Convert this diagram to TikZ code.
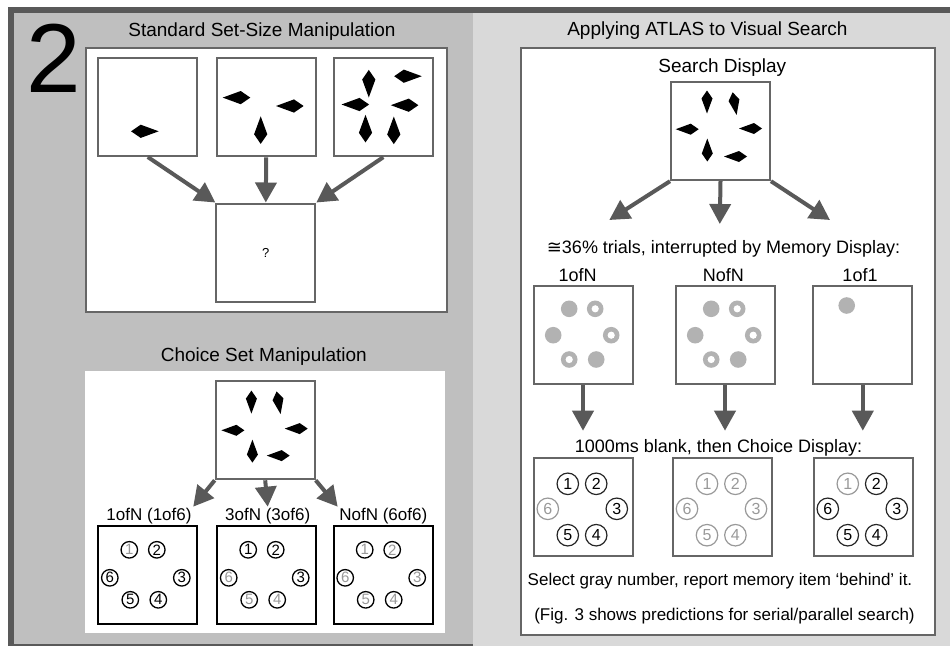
\documentclass[tikz,border=0pt]{standalone}
\usepackage{fontspec}
\setmainfont{Liberation Sans}
\newfontfamily\dejavu{DejaVu Sans}
\usetikzlibrary{arrows.meta}

\definecolor{framedark}{gray}{0.35}
\definecolor{panelleft}{gray}{0.75}
\definecolor{panelright}{gray}{0.85}
\definecolor{boxgray}{gray}{0.4}
\definecolor{arrowgray}{gray}{0.35}
\definecolor{dotgray}{gray}{0.7}
\definecolor{numgray}{gray}{0.6}

% kite shaped search item: [scale]{position}{direction of the long tip}
\newcommand{\kite}[3][1]{\fill[shift={(#2)},rotate=#3,scale=#1] (15,0) -- (0,5.5) -- (-8,0) -- (0,-5.5) -- cycle;}
% memory items
\newcommand{\fulldot}[1]{\fill[dotgray] (#1) circle (8.3);}
\newcommand{\ringdot}[1]{\fill[dotgray] (#1) circle (8.3); \fill[white] (#1) circle (3.6);}

\tikzset{
  disp/.style={draw=boxgray, line width=2pt, fill=white, minimum width=99pt, minimum height=98pt, inner sep=0pt},
  choicebox/.style={disp, draw=black},
  bigarrow/.style={draw=arrowgray, line width=4pt, -{Triangle[length=20pt,width=21pt]}},
  lnum/.style={circle, draw=black, line width=1.3pt, minimum size=16.5pt, inner sep=0pt, font=\fontsize{15}{15}\selectfont},
  rnum/.style={circle, draw=black!85, line width=1.2pt, minimum size=21.5pt, inner sep=0pt, font=\fontsize{16}{16}\selectfont},
  grayed/.style={text=numgray},
  rgrayed/.style={text=numgray, draw=numgray},
  titletext/.style={anchor=base, inner sep=0pt, font=\fontsize{19}{19}\selectfont},
  midtext/.style={anchor=base, inner sep=1.5pt, font=\fontsize{18}{18}\selectfont},
  notetext/.style={anchor=base, inner sep=1.5pt, font=\fontsize{17}{17}\selectfont}
}

\begin{document}
\begin{tikzpicture}[x=1pt,y=-1pt]

        \useasboundingbox (0,0) rectangle (950,646);
        \fill[white] (0,0) rectangle (950,646);

        % Panels and frame
        \fill[panelleft] (14,13) rectangle (473,643.5);
        \fill[panelright] (473,13) rectangle (950,646);
        \fill[framedark] (8,7) rectangle (950,13);
        \fill[framedark] (8,7) rectangle (14,646);
        \fill[framedark] (8,643.5) rectangle (473,646);

        % White containers
        \draw[boxgray, line width=2pt, fill=white] (86,48.3) rectangle (446.7,311.7);
        \fill[white] (85,371) rectangle (445,633.3);
        \draw[boxgray, line width=2pt, fill=white] (521,48.3) rectangle (935,635);

        % Titles
        \node[anchor=base west, inner sep=0pt, font=\fontsize{98}{98}\selectfont] (fignum) at (26,92) {2};
        \node[titletext] (stdtitle) at (262,36) {Standard Set-Size Manipulation};
        \node[titletext] (choicetitle) at (263.8,361.5) {Choice Set Manipulation};
        \node[titletext] (atlastitle) at (707.4,35.7) {Applying ATLAS to Visual Search};

        % Standard set-size displays
        \node[disp] (ssOne) at (147.8,107) {};
        \node[disp] (ssThree) at (266.2,107.3) {};
        \node[disp] (ssSix) at (383.3,107.2) {};
        \node[disp] (ssQ) at (265.8,252.5) {\fontsize{13}{13}\selectfont ?};

        \begin{scope}[shift={(ssOne.north west)}]
            \kite[1.2]{43.4,74.3}{0}
        \end{scope}
        \begin{scope}[shift={(ssThree.north west)}]
            \kite[1.2]{25,40.3}{180}
            \kite[1.2]{78.3,48.7}{180}
            \kite[1.2]{45,77}{90}
        \end{scope}
        \begin{scope}[shift={(ssSix.north west)}]
            \kite[1.2]{36,22.3}{270}
            \kite[1.2]{71,19}{0}
            \kite[1.2]{26.7,47.3}{180}
            \kite[1.2]{76,48}{180}
            \kite[1.2]{32.7,75.6}{90}
            \kite[1.2]{61,77.3}{90}
        \end{scope}

        \draw[bigarrow] (ssOne.south) -- (ssQ.north west);
        \draw[bigarrow] (ssThree.south) -- (ssQ.north);
        \draw[bigarrow] (ssSix.south) -- (ssQ.north east);

        % Choice set manipulation
        \node[disp] (chTop) at (265.2,430.3) {};
        \begin{scope}[shift={(chTop.north west)}]
            \kite{36.7,18.3}{270}
            \kite{63.3,19}{280}
            \kite{21.7,50}{180}
            \kite{85,48.3}{180}
            \kite{37.7,74.3}{90}
            \kite{67,75.3}{180}
        \end{scope}

        \node[notetext] (chLabOne) at (149,520.7) {1ofN (1of6)};
        \node[notetext] (chLabThree) at (267.7,520.7) {3ofN (3of6)};
        \node[notetext] (chLabSix) at (383.3,520.7) {NofN (6of6)};

        \draw[bigarrow] (chTop.south west) -- (chLabOne.north east);
        \draw[bigarrow] (chTop.south) -- (chLabThree.north);
        \draw[bigarrow] (chTop.south east) -- (chLabSix.north west);

        \node[choicebox] (chOne) at (147.8,575.3) {};
        \node[choicebox] (chThree) at (266.7,575.3) {};
        \node[choicebox] (chSix) at (383.2,575.3) {};

        \begin{scope}[shift={(chOne.north west)}]
            \foreach \n/\cx/\cy/\st in {1/32/24.5/grayed, 2/59.5/24.5/, 3/84.5/52.5/, 4/61/74.5/, 5/33/74.5/, 6/12.5/52.5/}
                \node[lnum,\st] (chOne-\n) at (\cx,\cy) {\n};
        \end{scope}
        \begin{scope}[shift={(chThree.north west)}]
            \foreach \n/\cx/\cy/\st in {1/32/24.5/, 2/59.5/24.5/, 3/84.5/52.5/, 4/61/74.5/grayed, 5/33/74.5/grayed, 6/12.5/52.5/grayed}
                \node[lnum,\st] (chThree-\n) at (\cx,\cy) {\n};
        \end{scope}
        \begin{scope}[shift={(chSix.north west)}]
            \foreach \n/\cx/\cy in {1/32/24.5, 2/59.5/24.5, 3/84.5/52.5, 4/61/74.5, 5/33/74.5, 6/12.5/52.5}
                \node[lnum,grayed] (chSix-\n) at (\cx,\cy) {\n};
        \end{scope}

        % Search display
        \node[titletext] (searchlab) at (722.3,72.7) {Search Display};
        \node[disp] (search) at (720.5,131.2) {};
        \begin{scope}[shift={(search.north west)}]
            \kite{37,17.3}{270}
            \kite{64,19}{280}
            \kite{20.7,48}{180}
            \kite{84,47.3}{180}
            \kite{37.3,72.3}{90}
            \kite{69,75.3}{180}
        \end{scope}

        \coordinate (sdLeft) at (609.3,220);
        \coordinate (sdMid) at (719.8,224);
        \coordinate (sdRight) at (830,220);
        \draw[bigarrow] (search.south west) -- (sdLeft);
        \draw[bigarrow] (search.south) -- (sdMid);
        \draw[bigarrow] (search.south east) -- (sdRight);

        % Memory displays
        \node[midtext] (memtext) at (723.5,253.3) {{\dejavu ≅}36\% trials, interrupted by Memory Display:};
        \node[midtext] (memLabOne) at (577.7,281) {1ofN};
        \node[midtext] (memLabN) at (723.3,281) {NofN};
        \node[midtext] (memLabSingle) at (860,281) {1of1};

        \node[disp] (memOne) at (583,334.5) {};
        \node[disp] (memN) at (725,334.5) {};
        \node[disp] (memSingle) at (862.8,334.5) {};

        \begin{scope}[shift={(memOne.north west)}]
            \fulldot{36.7,24.3} \ringdot{62.7,24.3}
            \fulldot{20.7,50.7} \ringdot{78.7,50.7}
            \ringdot{36.7,75} \fulldot{63.7,75}
        \end{scope}
        \begin{scope}[shift={(memN.north west)}]
            \fulldot{36.7,24.3} \ringdot{62.7,24.3}
            \fulldot{20.7,50.7} \ringdot{78.7,50.7}
            \ringdot{36.7,75} \fulldot{63.7,75}
        \end{scope}
        \begin{scope}[shift={(memSingle.north west)}]
            \fulldot{34.4,21}
        \end{scope}

        \coordinate (memOneEnd) at (583,430.7);
        \coordinate (memNEnd) at (725,430.7);
        \coordinate (memSingleEnd) at (862.8,430.7);
        \draw[bigarrow] (memOne.south) -- (memOneEnd);
        \draw[bigarrow] (memN.south) -- (memNEnd);
        \draw[bigarrow] (memSingle.south) -- (memSingleEnd);

        % Choice displays
        \node[midtext] (blanktext) at (718.5,452.7) {1000ms blank, then Choice Display:};
        \node[disp] (rcOne) at (583.3,507.2) {};
        \node[disp] (rcTwo) at (722.5,507.2) {};
        \node[disp] (rcThree) at (863.3,507.2) {};

        \begin{scope}[shift={(rcOne.north west)}]
            \foreach \n/\cx/\cy/\st in {1/35/26.6/, 2/63.4/26.6/, 3/84/51.6/, 4/63.4/78/, 5/35/78/, 6/15/51.6/rgrayed}
                \node[rnum,\st] (rcOne-\n) at (\cx,\cy) {\n};
        \end{scope}
        \begin{scope}[shift={(rcTwo.north west)}]
            \foreach \n/\cx/\cy in {1/35/26.6, 2/63.4/26.6, 3/84/51.6, 4/63.4/78, 5/35/78, 6/15/51.6}
                \node[rnum,rgrayed] (rcTwo-\n) at (\cx,\cy) {\n};
        \end{scope}
        \begin{scope}[shift={(rcThree.north west)}]
            \foreach \n/\cx/\cy/\st in {1/35/26.6/rgrayed, 2/63.4/26.6/, 3/84/51.6/, 4/63.4/78/, 5/35/78/, 6/15/51.6/}
                \node[rnum,\st] (rcThree-\n) at (\cx,\cy) {\n};
        \end{scope}

        % Notes
        \node[notetext] (selecttext) at (720,585) {Select gray number, report memory item ‘behind’ it.};
        \node[notetext] (figtext) at (724.5,620.5) {(Fig. 3 shows predictions for serial/parallel search)};

\end{tikzpicture}
\end{document}
